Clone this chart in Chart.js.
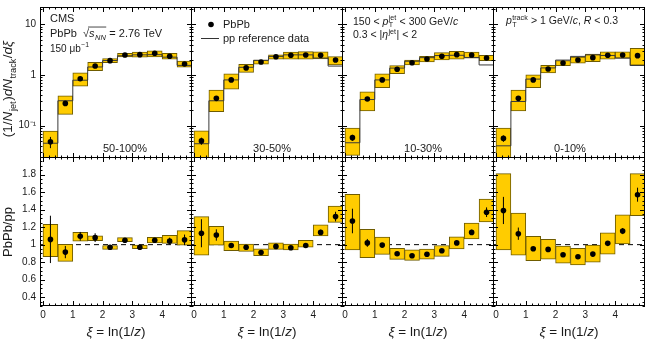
<!DOCTYPE html>
<html><head><meta charset="utf-8">
<script src="https://cdn.jsdelivr.net/npm/chart.js@4.4.1/dist/chart.umd.min.js"></script>
<style>
html,body{margin:0;padding:0;background:#fff;}
#wrap{position:relative;width:648px;height:341px;overflow:hidden;background:#fff;}
#wrap canvas{position:absolute;}
</style></head><body><div id="wrap"></div>
<script>
// ---------------- data ----------------
const xiCenters = [0.25,0.75,1.25,1.75,2.25,2.75,3.25,3.75,4.25,4.75];
const xiEdges   = [0,0.5,1,1.5,2,2.5,3,3.5,4,4.5,5];
const centralities = ['50-100%','30-50%','10-30%','0-10%'];
const xTickValues = [0,1,2,3,4];
const xTickLabels = ['0','1','2','3','4'];
const yTopTickValues = [0.1,1,10];
const yTopTickLabels = ['10\u207B\u00B9','1','10'];
const yBotTickValues = [0.4,0.6,0.8,1,1.2,1.4,1.6,1.8];
const yBotTickLabels = ['0.4','0.6','0.8','1','1.2','1.4','1.6','1.8'];

// top row: PbPb fragmentation functions
const pbpb_50_100 = [0.048,0.275,0.845,1.51,1.92,2.49,2.52,2.69,2.35,1.65];
const sysLo_50_100 = [0.015,0.167,0.605,1.22,1.75,2.27,2.24,2.27,2.05,1.42];
const sysHi_50_100 = [0.078,0.389,1.10,1.78,2.10,2.69,2.82,2.99,2.69,1.89];
const stat_50_100 = [0.012,0.015,0.03,0.03,0.03,0.03,0.03,0.03,0.03,0.03];
const pp_50_100 = [0.045,0.31,0.79,1.44,1.93,2.40,2.50,2.52,2.25,1.55];

const pbpb_30_50 = [0.050,0.346,0.80,1.38,1.81,2.30,2.45,2.49,2.45,1.98];
const sysLo_30_50 = [0.015,0.188,0.528,1.13,1.63,2.05,2.05,2.05,2.07,1.58];
const sysHi_30_50 = [0.079,0.505,1.05,1.63,1.98,2.49,2.82,2.89,2.86,2.30];
const stat_30_50 = [0.008,0.012,0.02,0.03,0.03,0.03,0.03,0.03,0.03,0.03];
const pp_30_50 = [0.044,0.31,0.80,1.42,1.95,2.33,2.50,2.50,2.16,1.50];

const pbpb_10_30 = [0.058,0.335,0.80,1.30,1.75,2.07,2.35,2.52,2.49,2.17];
const sysLo_10_30 = [0.026,0.196,0.56,1.06,1.58,1.81,1.98,2.05,2.14,1.92];
const sysHi_10_30 = [0.090,0.467,1.05,1.53,1.98,2.35,2.76,2.94,2.82,2.45];
const stat_10_30 = [0.008,0.012,0.02,0.03,0.03,0.03,0.03,0.03,0.03,0.03];
const pp_10_30 = [0.046,0.328,0.80,1.37,1.87,2.20,2.42,2.45,2.22,1.58];

const pbpb_0_10 = [0.056,0.346,0.80,1.31,1.73,1.98,2.20,2.45,2.49,2.41];
const sysLo_0_10 = [0.015,0.196,0.56,1.10,1.53,1.71,1.83,2.05,2.14,1.56];
const sysHi_0_10 = [0.090,0.505,1.01,1.56,1.92,2.27,2.60,2.86,2.86,3.38];
const stat_0_10 = [0.008,0.012,0.02,0.03,0.03,0.03,0.03,0.03,0.03,0.03];
const pp_0_10 = [0.040,0.30,0.83,1.38,1.97,2.33,2.50,2.43,2.15,1.54];

// bottom row: PbPb/pp ratios
const ratio_50_100 = [1.06,0.915,1.095,1.08,0.97,1.05,0.97,1.05,1.04,1.055];
const rSysLo_50_100 = [0.862,0.809,1.04,1.045,0.946,1.035,0.953,1.02,1.015,0.995];
const rSysHi_50_100 = [1.232,1.003,1.14,1.10,0.99,1.08,0.995,1.084,1.106,1.16];
const rStat_50_100 = [0.27,0.07,0.05,0.05,0.015,0.02,0.015,0.02,0.04,0.06];

const ratio_30_50 = [1.13,1.11,0.99,0.97,0.91,0.98,0.965,0.99,1.14,1.32];
const rSysLo_30_50 = [0.88,0.995,0.93,0.923,0.873,0.946,0.94,0.97,1.10,1.255];
const rSysHi_30_50 = [1.32,1.21,1.04,1.007,0.953,1.02,1.007,1.05,1.225,1.44];
const rStat_30_50 = [0.16,0.065,0.02,0.015,0.015,0.015,0.015,0.02,0.03,0.055];

const ratio_10_30 = [1.27,1.02,0.995,0.896,0.873,0.89,0.93,1.02,1.14,1.37];
const rSysLo_10_30 = [0.94,0.85,0.889,0.832,0.82,0.835,0.866,0.95,1.065,1.26];
const rSysHi_10_30 = [1.575,1.175,1.087,0.957,0.94,0.95,0.99,1.09,1.245,1.52];
const rStat_10_30 = [0.14,0.045,0.02,0.015,0.01,0.01,0.015,0.02,0.03,0.055];

const ratio_0_10 = [1.39,1.125,0.953,0.946,0.885,0.862,0.892,1.015,1.155,1.57];
const rSysLo_0_10 = [0.94,0.88,0.816,0.835,0.79,0.77,0.80,0.892,1.007,1.33];
const rSysHi_0_10 = [1.81,1.36,1.095,1.06,0.984,0.958,0.995,1.136,1.34,1.81];
const rStat_0_10 = [0.155,0.07,0.02,0.02,0.015,0.015,0.015,0.02,0.035,0.08];

const topSets = [
  {v:pbpb_50_100, lo:sysLo_50_100, hi:sysHi_50_100, e:stat_50_100, pp:pp_50_100},
  {v:pbpb_30_50,  lo:sysLo_30_50,  hi:sysHi_30_50,  e:stat_30_50,  pp:pp_30_50},
  {v:pbpb_10_30,  lo:sysLo_10_30,  hi:sysHi_10_30,  e:stat_10_30,  pp:pp_10_30},
  {v:pbpb_0_10,   lo:sysLo_0_10,   hi:sysHi_0_10,   e:stat_0_10,   pp:pp_0_10}
];
const botSets = [
  {v:ratio_50_100, lo:rSysLo_50_100, hi:rSysHi_50_100, e:rStat_50_100},
  {v:ratio_30_50,  lo:rSysLo_30_50,  hi:rSysHi_30_50,  e:rStat_30_50},
  {v:ratio_10_30,  lo:rSysLo_10_30,  hi:rSysHi_10_30,  e:rStat_10_30},
  {v:ratio_0_10,   lo:rSysLo_0_10,   hi:rSysHi_0_10,   e:rStat_0_10}
];

// ---------------- style / layout ----------------
const FONT = '"Liberation Sans", Arial, Helvetica, sans-serif';
const TXT = '#1a1a1a';
const FILL = '#ffcc00';
const EDGE = '#6f5c00';
const X0 = [40,191,342,493];
const PW = 152;
const TOP_Y = 7, TOP_H = 151;
const BOT_Y = 157, BOT_H = 149, XAX_H = 35;
const YAX_W = 40;

function rich(ctx, x, y, parts, size, align) {
  const ss = size*0.68;
  const f = (s,it)=>(it?'italic ':'')+s+'px '+FONT;
  let w = 0; const items = [];
  for (const p of parts) {
    ctx.font = f(size, p.it);
    const tw = p.t ? ctx.measureText(p.t).width : 0;
    let sw = 0, pw = 0;
    if (p.sub) { ctx.font = f(ss, p.subIt); sw = ctx.measureText(p.sub).width; }
    if (p.sup) { ctx.font = f(ss, p.supIt); pw = ctx.measureText(p.sup).width; }
    const extra = (p.sub||p.sup) ? Math.max(sw,pw) + size*0.08 : 0;
    items.push({p,tw,extra}); w += tw + extra;
  }
  let cx = align==='center' ? x - w/2 : (align==='right' ? x - w : x);
  ctx.fillStyle = TXT; ctx.textAlign = 'left'; ctx.textBaseline = 'alphabetic';
  for (const it of items) {
    const p = it.p;
    if (p.over) {
      ctx.save(); ctx.strokeStyle = TXT; ctx.lineWidth = 0.8;
      ctx.beginPath(); ctx.moveTo(cx - 1, y - size*0.86); ctx.lineTo(cx + it.tw + it.extra, y - size*0.86); ctx.stroke(); ctx.restore();
    }
    if (p.t) { ctx.font = f(size, p.it); ctx.fillText(p.t, cx, y); }
    cx += it.tw;
    if (p.sub) { ctx.font = f(ss, p.subIt); ctx.fillText(p.sub, cx + size*0.04, y + size*0.28); }
    if (p.sup) { ctx.font = f(ss, p.supIt); ctx.fillText(p.sup, cx + size*0.04, y - size*0.42); }
    cx += it.extra;
  }
  return w;
}

function drawFrameTicks(chart, row) {
  const {ctx, chartArea: a} = chart;
  const xs = chart.scales.x, ys = chart.scales.y;
  ctx.save();
  ctx.strokeStyle = '#000'; ctx.lineWidth = 1;
  ctx.beginPath();
  for (let k = 0; k <= 25; k++) {
    const v = k*0.2;
    if (v < xs.min - 1e-9 || v > xs.max + 1e-9) continue;
    const px = Math.round(xs.getPixelForValue(v)) + 0.5;
    const L = (k % 5 === 0) ? 5 : 2.5;
    ctx.moveTo(px, a.bottom); ctx.lineTo(px, a.bottom - L);
    ctx.moveTo(px, a.top); ctx.lineTo(px, a.top + L);
  }
  const yt = [];
  if (row === 0) {
    for (let n = -2; n <= 1; n++) for (let m = 1; m <= 9; m++) yt.push([m*Math.pow(10,n), m===1]);
  } else {
    for (let k = 6; k <= 40; k++) yt.push([k*0.05, k%4===0]);
  }
  for (const [v, major] of yt) {
    if (v < ys.min || v > ys.max) continue;
    const py = Math.round(ys.getPixelForValue(v)) + 0.5;
    const L = major ? 5 : 2.5;
    ctx.moveTo(a.left, py); ctx.lineTo(a.left + L, py);
    ctx.moveTo(a.right, py); ctx.lineTo(a.right - L, py);
  }
  ctx.stroke();
  ctx.strokeRect(a.left + 0.5, a.top + 0.5, a.width - 1, a.height - 1);
  ctx.restore();
}

function panelTexts(ctx, row, col) {
  if (row === 0) {
    if (col === 0) {
      rich(ctx, 50, 21.5, [{t:'CMS'}], 11);
      rich(ctx, 50, 36.5, [{t:'PbPb  \u221A'},{t:'s', it:true, sub:'NN', subIt:true, over:true},{t:' = 2.76 TeV'}], 11);
      rich(ctx, 50, 51.5, [{t:'150 \u03BCb', sup:'\u22121'}], 10);
      // y axis title
      ctx.save(); ctx.translate(12, 89); ctx.rotate(-Math.PI/2);
      rich(ctx, 0, 0, [{t:'(1/'},{t:'N', it:true, sub:'jet'},{t:')'},{t:'dN', it:true, sub:'track'},{t:'/'},{t:'d\u03BE', it:true}], 13.5, 'center');
      ctx.restore();
    }
    if (col === 1) {
      rich(ctx, 223, 28, [{t:'PbPb'}], 11);
      rich(ctx, 223, 41.5, [{t:'pp reference data'}], 11);
    }
    if (col === 2) {
      rich(ctx, 353, 24.5, [{t:'150 < '},{t:'p', it:true, sub:'T', sup:'jet'},{t:' < 300 GeV/'},{t:'c', it:true}], 10.5);
      rich(ctx, 353, 38, [{t:'0.3 < |'},{t:'\u03B7', it:true, sup:'jet'},{t:'| < 2'}], 10.5);
    }
    if (col === 3) {
      rich(ctx, 506, 24, [{t:'p', it:true, sub:'T', sup:'track'},{t:' > 1 GeV/'},{t:'c', it:true},{t:', '},{t:'R', it:true},{t:' < 0.3'}], 10.5);
    }
    const cxs = [125, 272, 423, 570];
    rich(ctx, cxs[col], 151.5, [{t:centralities[col]}], 11, 'center');
  } else {
    if (col === 0) {
      ctx.save(); ctx.translate(12, 232); ctx.rotate(-Math.PI/2);
      rich(ctx, 0, 0, [{t:'PbPb/pp'}], 13, 'center');
      ctx.restore();
    }
    const c = X0[col] + PW/2;
    rich(ctx, c, 336, [{t:'\u03BE', it:true},{t:' = ln(1/'},{t:'z', it:true},{t:')'}], 13.5, 'center');
  }
}

function legendMarks(chart, left, top) {
  // legend of the 30-50% panel: marker + line
  const ctx = chart.ctx;
  ctx.save(); ctx.translate(-left, -top);
  ctx.fillStyle = '#000';
  ctx.beginPath(); ctx.arc(211, 24.5, 2.8, 0, Math.PI*2); ctx.fill();
  ctx.strokeStyle = '#333'; ctx.lineWidth = 1;
  ctx.beginPath(); ctx.moveTo(201, 38.5); ctx.lineTo(219, 38.5); ctx.stroke();
  ctx.restore();
}

const wrap = document.getElementById('wrap');

function makePanel(row, col) {
  const left = col === 0 ? 0 : X0[col];
  const width = col === 0 ? X0[0] + PW : PW;
  const top = row === 0 ? TOP_Y : BOT_Y;
  const height = row === 0 ? TOP_H : BOT_H + XAX_H;
  const cv = document.createElement('canvas');
  cv.width = width; cv.height = height;
  cv.style.left = left + 'px'; cv.style.top = top + 'px';
  cv.style.width = width + 'px'; cv.style.height = height + 'px';
  wrap.appendChild(cv);

  const set = row === 0 ? topSets[col] : botSets[col];
  const datasets = [];
  datasets.push({
    type:'line', label:'PbPb', order:0,
    data: xiCenters.map((x,i)=>({x, y:set.v[i]})),
    showLine:false, pointRadius:2.8, pointHoverRadius:2.8,
    pointBackgroundColor:'#000', pointBorderWidth:0, borderColor:'#000'
  });
  const errData = [];
  xiCenters.forEach((x,i)=>{
    errData.push({x, y:set.v[i]-set.e[i]});
    errData.push({x, y:set.v[i]+set.e[i]});
    errData.push({x, y:null});
  });
  datasets.push({
    type:'line', label:'stat', order:1, data: errData, spanGaps:false,
    borderColor:'#000', borderWidth:1, pointRadius:0, pointHoverRadius:0
  });
  if (row === 0) {
    datasets.push({
      type:'line', label:'pp reference data', order:2,
      data: xiEdges.map((e,i)=>({x:e, y:set.pp[Math.min(i, set.pp.length-1)]})),
      stepped:true, borderColor:'#3a3a3a', borderWidth:1, pointRadius:0, pointHoverRadius:0
    });
  }
  datasets.push({
    type:'bar', label:'syst', order:3,
    data: xiCenters.map((x,i)=>({x, y:[set.lo[i], set.hi[i]]})),
    backgroundColor:FILL, borderColor:EDGE, borderWidth:1, borderSkipped:false,
    barPercentage:1, categoryPercentage:1
  });
  if (row === 1) {
    datasets.push({
      type:'line', label:'unity', order:4,
      data:[{x:-0.1,y:1},{x:5,y:1}],
      borderColor:'#000', borderWidth:1, borderDash:[5,4], pointRadius:0, pointHoverRadius:0
    });
  }

  const tickFont = {family: FONT, size: 10};
  const xScale = {
    type:'linear', min:-0.1, max:5.0, offset:false, bounds:'data',
    display: row === 1,
    grid:{display:false, drawTicks:false}, border:{display:false},
    ticks:{font:tickFont, color:TXT, padding:3, maxRotation:0, autoSkip:false,
      callback:(v)=>{const k = xTickValues.indexOf(v); return k>=0 ? xTickLabels[k] : '';}},
    afterBuildTicks:(s)=>{ s.ticks = xTickValues.map(v=>({value:v})); }
  };
  if (row === 1) xScale.afterFit = (s)=>{ s.height = XAX_H; s.paddingLeft = 0; s.paddingRight = 0; };
  const yVals = row === 0 ? yTopTickValues : yBotTickValues;
  const yLabs = row === 0 ? yTopTickLabels : yBotTickLabels;
  const yScale = {
    type: row === 0 ? 'logarithmic' : 'linear',
    min: row === 0 ? 0.023 : 0.3, max: row === 0 ? 22 : 2.0,
    bounds:'data', display: col === 0,
    grid:{display:false, drawTicks:false}, border:{display:false},
    ticks:{font:tickFont, color:TXT, padding:4, autoSkip:false,
      callback:(v)=>{const k = yVals.findIndex(t=>Math.abs(t-v)<1e-9); return k>=0 ? yLabs[k] : '';}},
    afterBuildTicks:(s)=>{ s.ticks = yVals.map(v=>({value:v})); }
  };
  if (col === 0) yScale.afterFit = (s)=>{ s.width = YAX_W; s.paddingTop = 0; s.paddingBottom = 0; };

  new Chart(cv, {
    type:'bar',
    data:{datasets},
    options:{
      responsive:false, animation:false, devicePixelRatio:1, events:[],
      layout:{padding:0, autoPadding:false},
      plugins:{legend:{display:false}, tooltip:{enabled:false}},
      scales:{x:xScale, y:yScale}
    },
    plugins:[{
      id:'frameAndText',
      afterDraw(chart){
        drawFrameTicks(chart, row);
        const ctx = chart.ctx;
        ctx.save(); ctx.translate(-left, -top);
        panelTexts(ctx, row, col);
        ctx.restore();
        if (row === 0 && col === 1) legendMarks(chart, left, top);
      }
    }]
  });
}

for (let r = 0; r < 2; r++) for (let c = 0; c < 4; c++) makePanel(r, c);
</script>
</body></html>
